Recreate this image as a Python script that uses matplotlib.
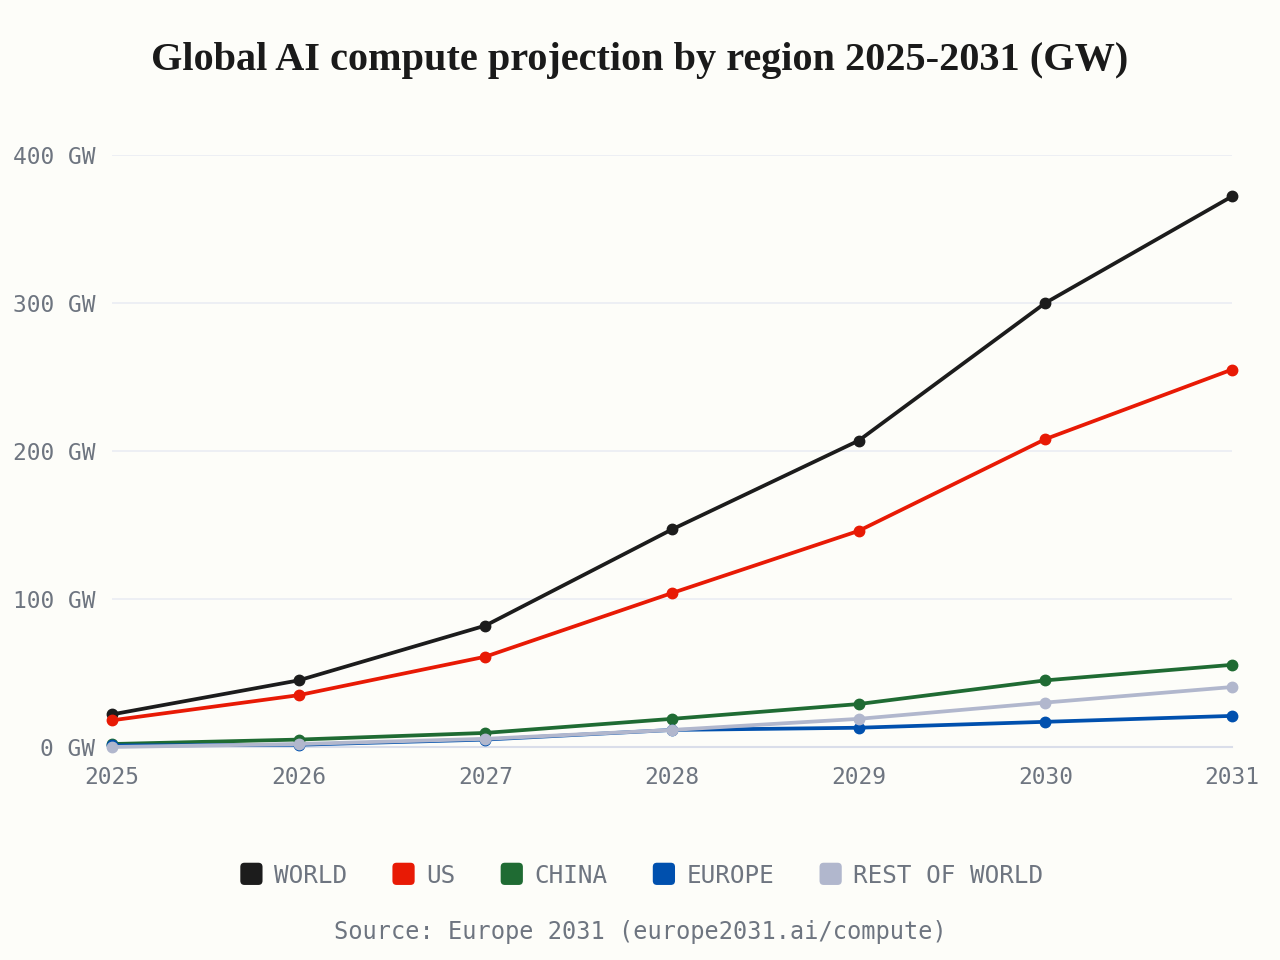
import matplotlib.pyplot as plt
from matplotlib.patches import Patch, FancyBboxPatch
from matplotlib.legend_handler import HandlerPatch

years = [2025, 2026, 2027, 2028, 2029, 2030, 2031]
world = [22, 45, 82, 147, 207, 300, 372]
us = [18, 35, 61, 104, 146, 208, 255]
china = [2, 5, 9.5, 19, 29, 45, 55.5]
europe = [1, 1.5, 5, 11.5, 13, 17, 21]
rest = [0, 2, 5.5, 11.5, 19, 30, 40.5]

names = ['WORLD', 'US', 'CHINA', 'EUROPE', 'REST OF WORLD']
colors = ['#1c1c1c', '#e81a05', '#1f6b33', '#0050ae', '#b1b7cd']
series = [world, us, china, europe, rest]

bg = '#fdfdf9'
grey = '#6e7580'
mono = 'DejaVu Sans Mono'


# rounded square swatch for the legend
class RoundBox(HandlerPatch):
    def create_artists(self, legend, orig, xd, yd, w, h, fs, trans):
        s = 16
        p = FancyBboxPatch((xd + (w - s) / 2 + 2, yd + (h - s) / 2 - 3), s, s,
                           boxstyle='round,pad=0,rounding_size=3',
                           fc=orig.get_facecolor(), ec='none', transform=trans)
        return [p]


fig = plt.figure(figsize=(12.8, 9.6), dpi=100, facecolor=bg)
ax = fig.add_axes([0.0875, 0.2219, 0.875, 0.6167], facecolor=bg)

for vals, c in zip(series, colors):
    ax.plot(years, vals, color=c, lw=2.7, marker='o', ms=7.5, clip_on=False, zorder=3)

ax.set_xlim(2025, 2031)
ax.set_ylim(0, 400)
ax.set_yticks([0, 100, 200, 300, 400])
ax.set_yticklabels([f'{v} GW' for v in [0, 100, 200, 300, 400]])
ax.set_xticks(years)
ax.set_xticklabels([str(y) for y in years])
ax.grid(axis='y', color='#eceef4', lw=1.3)
ax.set_axisbelow(True)
for s in ['top', 'right', 'left']:
    ax.spines[s].set_visible(False)
ax.spines['bottom'].set_color('#dadeea')
ax.spines['bottom'].set_linewidth(1.5)
ax.tick_params(length=0, colors=grey, labelsize=16.5)
ax.tick_params(axis='y', pad=12)
ax.tick_params(axis='x', pad=14)
for lab in ax.get_xticklabels() + ax.get_yticklabels():
    lab.set_fontfamily(mono)

fig.text(0.5, 0.937, 'Global AI compute projection by region 2025-2031 (GW)',
         ha='center', va='center', fontsize=29, fontweight='bold',
         family='Liberation Serif', color='#1a1a1a')

handles = [Patch(facecolor=c) for c in colors]
leg = fig.legend(handles, names, loc='center', bbox_to_anchor=(0.5, 0.0875),
                 ncol=5, frameon=False, handlelength=1.0, handleheight=1.0,
                 handletextpad=0.55, columnspacing=1.7,
                 handler_map={Patch: RoundBox()},
                 prop={'family': mono, 'size': 17.5})
for t in leg.get_texts():
    t.set_color(grey)

fig.text(0.5, 0.029, 'Source: Europe 2031 (europe2031.ai/compute)', ha='center',
         va='center', fontsize=17, family=mono, color=grey)

fig.savefig('out.png', dpi=100, facecolor=bg)
